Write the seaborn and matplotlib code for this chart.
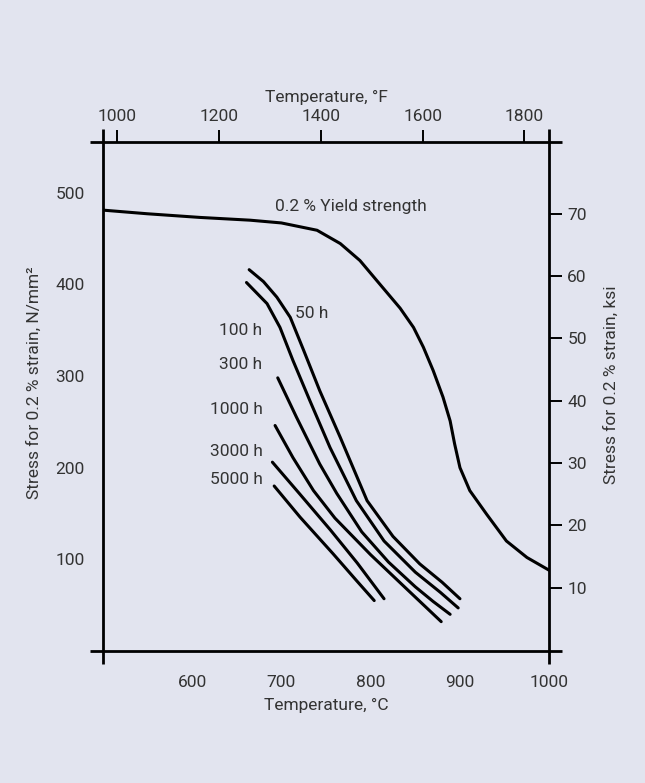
import numpy as np
import pandas as pd
import seaborn as sns
import matplotlib.pyplot as plt
from matplotlib.lines import Line2D

# 0.2 % yield strength curve (temperature in C, stress in N/mm2)
yield_temp = [500, 550, 609, 665, 700, 740, 766, 788, 807, 833, 848, 859, 870,
              881, 889, 894, 900, 911, 930, 952, 975, 1000]
yield_stress = [481, 477, 473, 470, 467, 459, 444.5, 426, 404, 374, 353, 331.5,
                306, 277, 251, 226, 200, 175, 149, 120, 102, 88]

# stress for 0.2 % creep strain after a given time
temp_50h = [664, 680, 695, 710, 725, 743, 766, 796, 825, 855, 880, 900]
stress_50h = [416, 403, 386, 364, 328, 284, 233, 164, 125, 95, 75, 57]
temp_100h = [661, 684, 698.5, 713, 732, 754.5, 784, 815, 850, 878, 898]
stress_100h = [402, 379, 353, 317, 273, 222, 164, 120, 86, 64, 47]
temp_300h = [696, 717, 743, 762, 790, 820, 850, 870, 889]
stress_300h = [298, 255, 204, 172, 130, 97, 70, 54, 40]
temp_1000h = [693, 713, 736, 760, 800, 840, 879]
stress_1000h = [246, 211, 175, 145, 105, 68, 32]
temp_3000h = [690, 720, 755, 785, 815]
stress_3000h = [206, 172, 132, 96, 57]
temp_5000h = [692, 721, 758, 784, 804]
stress_5000h = [180, 146, 106, 77, 55]

hour_labels = ['50 h', '100 h', '300 h', '1000 h', '3000 h', '5000 h']
c_ticks = [600, 700, 800, 900, 1000]
f_ticks = [1000, 1200, 1400, 1600, 1800]
n_ticks = [100, 200, 300, 400, 500]
ksi_ticks = [10, 20, 30, 40, 50, 60, 70]

curves = [('yield', yield_temp, yield_stress),
          ('50 h', temp_50h, stress_50h),
          ('100 h', temp_100h, stress_100h),
          ('300 h', temp_300h, stress_300h),
          ('1000 h', temp_1000h, stress_1000h),
          ('3000 h', temp_3000h, stress_3000h),
          ('5000 h', temp_5000h, stress_5000h)]
df = pd.concat([pd.DataFrame({'curve': name, 'temp': t, 'stress': s})
                for name, t, s in curves], ignore_index=True)

bg = '#e2e4ef'
txt = '#333333'
sns.set_style('white')
plt.rcParams['font.family'] = ['Roboto', 'DejaVu Sans']

fig = plt.figure(figsize=(6.45, 7.83), dpi=100, facecolor=bg)
ax = fig.add_axes([0.1592, 0.1686, 0.6924, 0.6497])
ax.set_facecolor(bg)

sns.lineplot(data=df, x='temp', y='stress', hue='curve', estimator=None, sort=False,
             palette={name: 'black' for name, _, _ in curves}, legend=False,
             linewidth=2.2, ax=ax)

ax.set_xlim(500, 1000)
ax.set_ylim(0, 555)
ax.set_xticks(c_ticks)
ax.set_yticks(n_ticks)
ax.set_xlabel('Temperature, °C', fontsize=12.5, color=txt, labelpad=6)
ax.set_ylabel('Stress for 0.2 % strain, N/mm²', fontsize=12.5, color=txt)
ax.yaxis.set_label_coords(-0.136, 0.527)

tick_kw = dict(direction='out', length=9, width=1.4, color='black',
               labelsize=12.5, labelcolor=txt, pad=4)
ax.tick_params(axis='both', **tick_kw)
ax.tick_params(axis='x', pad=8)

# top axis in Fahrenheit, right axis in ksi (scales as drawn on the original)
secx = ax.secondary_xaxis('top', functions=(lambda c: 1.7552 * c + 93.8,
                                            lambda f: (f - 93.8) / 1.7552))
secx.set_xticks(f_ticks)
secx.set_xlabel('Temperature, °F', fontsize=12.5, color=txt, labelpad=5)
secx.tick_params(**tick_kw)

secy = ax.secondary_yaxis('right', functions=(lambda n: (n - 1.2) / 6.80,
                                              lambda k: 6.80 * k + 1.2))
secy.set_yticks(ksi_ticks)
secy.set_ylabel('Stress for 0.2 % strain, ksi', fontsize=12.5, color=txt)
secy.yaxis.set_label_coords(1.122, 0.523, transform=ax.transAxes)
secy.tick_params(**tick_kw)

for a in (ax, secx, secy):
    for sp in a.spines.values():
        sp.set_visible(False)

# frame lines that run past the corners
ex = 13 / (0.6924 * 645)
ey = 13 / (0.6497 * 783)
for xs, ys in [((-ex, 1 + ex), (0, 0)), ((-ex, 1 + ex), (1, 1)),
               ((0, 0), (-ey, 1 + ey)), ((1, 1), (-ey, 1 + ey))]:
    ax.add_line(Line2D(xs, ys, transform=ax.transAxes, color='black',
                       linewidth=2.0, clip_on=False, solid_capstyle='butt'))

ax.text(693, 484.5, '0.2 % Yield strength', ha='left', va='center',
        fontsize=12.5, color=txt)
ax.text(715.6, 368, hour_labels[0], ha='left', va='center', fontsize=12.5, color=txt)
for lab, y in zip(hour_labels[1:], [350, 312.6, 263, 217.5, 187]):
    ax.text(679, y, lab, ha='right', va='center', fontsize=12.5, color=txt)

fig.savefig('out.png', dpi=100, facecolor=bg)
